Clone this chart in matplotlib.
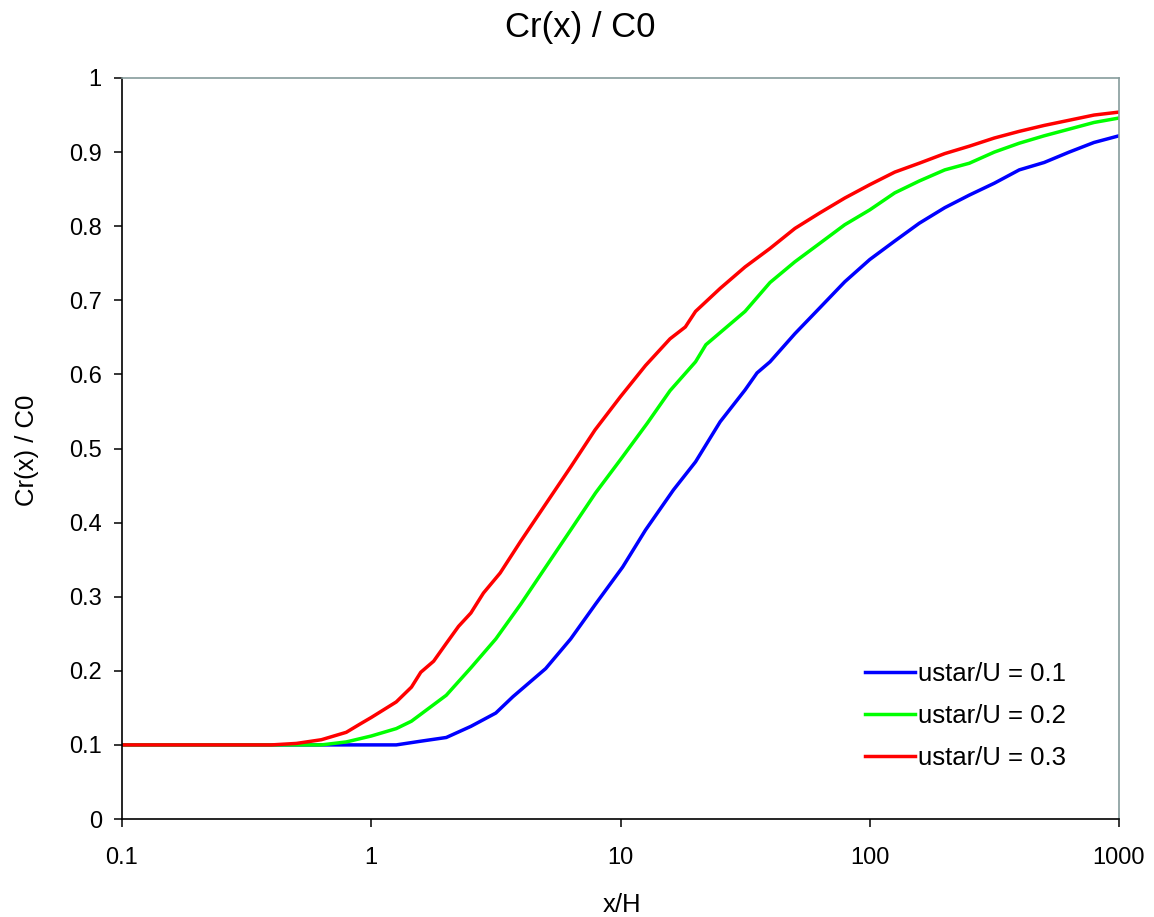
import matplotlib
matplotlib.use('Agg')
import matplotlib.pyplot as plt

plt.rcParams['font.family'] = ['Liberation Sans', 'DejaVu Sans']

# x/H values (log spaced) and Cr(x)/C0 for each ustar/U
x_blue = [0.1, 0.126, 0.158, 0.2, 0.251, 0.316, 0.398, 0.501, 0.631, 0.794, 1.0, 1.26,
          1.58, 2.0, 2.51, 3.16, 3.7, 5.01, 6.31, 7.94, 10.2, 12.6, 16.3, 20.0, 25.1,
          31.6, 35.3, 39.8, 50.1, 63.1, 79.4, 100, 126, 158, 200, 251, 316, 398, 501,
          631, 794, 1000]
y_blue = [0.1, 0.1, 0.1, 0.1, 0.1, 0.1, 0.1, 0.1, 0.1, 0.1, 0.1, 0.1,
          0.105, 0.11, 0.125, 0.143, 0.165, 0.203, 0.243, 0.29, 0.34, 0.39, 0.444, 0.482, 0.536,
          0.579, 0.602, 0.617, 0.655, 0.69, 0.725, 0.755, 0.78, 0.804, 0.825, 0.842, 0.858, 0.876, 0.886,
          0.9, 0.913, 0.922]

x_green = [0.1, 0.126, 0.158, 0.2, 0.251, 0.316, 0.398, 0.501, 0.631, 0.794, 1.0, 1.26,
           1.45, 2.0, 2.51, 3.16, 3.98, 5.01, 6.31, 7.94, 10.0, 12.8, 15.8, 20.0, 22.0,
           31.6, 39.8, 50.1, 63.1, 79.4, 100, 126, 158, 200, 251, 316, 398, 501,
           631, 794, 1000]
y_green = [0.1, 0.1, 0.1, 0.1, 0.1, 0.1, 0.1, 0.1, 0.1, 0.104, 0.112, 0.122,
           0.132, 0.167, 0.204, 0.243, 0.29, 0.34, 0.39, 0.44, 0.485, 0.534, 0.578, 0.617, 0.64,
           0.685, 0.724, 0.752, 0.777, 0.802, 0.822, 0.845, 0.861, 0.876, 0.885, 0.9, 0.912, 0.922,
           0.931, 0.94, 0.946]

x_red = [0.1, 0.126, 0.158, 0.2, 0.251, 0.316, 0.398, 0.501, 0.631, 0.794, 0.9, 1.0, 1.26,
         1.45, 1.58, 1.78, 2.0, 2.24, 2.51, 2.82, 3.29, 3.98, 5.01, 6.31, 7.9, 10.0, 12.6,
         15.8, 18.2, 20.0, 25.1, 31.6, 39.8, 50.1, 63.1, 79.4, 100, 126, 158, 200, 251,
         316, 398, 501, 631, 794, 1000]
y_red = [0.1, 0.1, 0.1, 0.1, 0.1, 0.1, 0.1, 0.102, 0.107, 0.117, 0.128, 0.137, 0.158,
         0.178, 0.198, 0.213, 0.237, 0.26, 0.278, 0.305, 0.332, 0.375, 0.425, 0.475, 0.525, 0.57, 0.612,
         0.648, 0.664, 0.685, 0.716, 0.745, 0.77, 0.797, 0.818, 0.838, 0.856, 0.873, 0.885, 0.898, 0.908,
         0.919, 0.928, 0.936, 0.943, 0.95, 0.954]

x_ticks = [0.1, 1, 10, 100, 1000]
x_labels = ['0.1', '1', '10', '100', '1000']
y_ticks = [0, 0.1, 0.2, 0.3, 0.4, 0.5, 0.6, 0.7, 0.8, 0.9, 1]
y_labels = ['0', '0.1', '0.2', '0.3', '0.4', '0.5', '0.6', '0.7', '0.8', '0.9', '1']

W, H = 1154, 917
fig = plt.figure(figsize=(W / 100, H / 100), dpi=100)
ax = fig.add_axes([122 / W, 1 - 819 / H, (1119 - 122) / W, (819 - 78) / H])

ax.plot(x_blue, y_blue, color='#0000ff', lw=2.5, label='ustar/U = 0.1')
ax.plot(x_green, y_green, color='#00ff00', lw=2.5, label='ustar/U = 0.2')
ax.plot(x_red, y_red, color='#ff0000', lw=2.5, label='ustar/U = 0.3')

ax.set_xscale('log')
ax.set_xlim(0.1, 1000)
ax.set_ylim(0, 1)
ax.set_xticks(x_ticks)
ax.set_xticklabels(x_labels)
ax.xaxis.set_minor_locator(matplotlib.ticker.NullLocator())
ax.set_yticks(y_ticks)
ax.set_yticklabels(y_labels)
ax.tick_params(axis='both', direction='out', length=5.5, width=1.1, labelsize=17)
ax.tick_params(axis='x', pad=14.5)
ax.tick_params(axis='y', pad=9)

for s in ['left', 'bottom']:
    ax.spines[s].set_color('black')
    ax.spines[s].set_linewidth(1.2)
for s in ['top', 'right']:
    ax.spines[s].set_color('#869c9c')
    ax.spines[s].set_linewidth(1.2)

fig.text(580 / W, 1 - 37 / H, 'Cr(x) / C0', fontsize=25, ha='center', va='baseline')
fig.text(622 / W, 1 - 912 / H, 'x/H', fontsize=18.5, ha='center', va='baseline')
fig.text(27 / W, 1 - 450 / H, 'Cr(x) / C0', fontsize=18.5, rotation=90,
         ha='center', va='center')

ax.legend(loc='upper left', bbox_to_anchor=(865 / W, 1 - 662 / H), bbox_transform=fig.transFigure,
          frameon=False, fontsize=18.5, borderpad=0, borderaxespad=0,
          handlelength=1.95, handletextpad=0.12, labelspacing=0.7)

fig.savefig('out.png', dpi=100)
